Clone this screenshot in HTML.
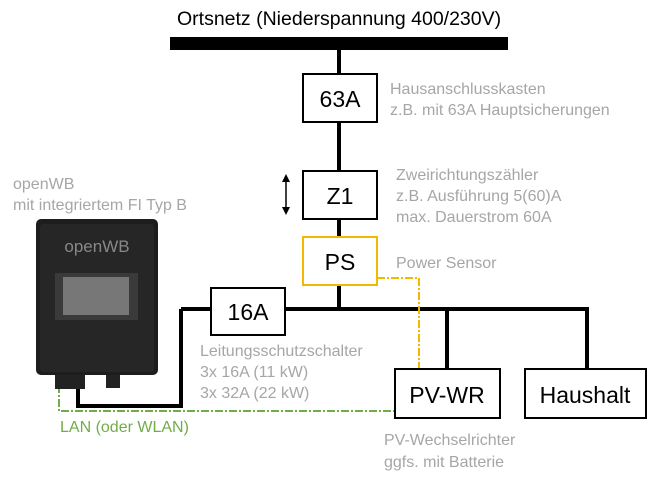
<!DOCTYPE html>
<html><head><meta charset="utf-8"><style>
body{margin:0;background:#fff;width:659px;height:476px;overflow:hidden;font-family:"Liberation Sans",sans-serif}
</style></head><body>
<svg width="659" height="476" xmlns="http://www.w3.org/2000/svg" font-family="Liberation Sans, sans-serif">
<text x="177" y="25" font-size="19.5" fill="#000">Ortsnetz (Niederspannung 400/230V)</text>
<rect x="170" y="37" width="338" height="13" fill="#000"/>
<line x1="339" y1="50" x2="339" y2="309" stroke="#000" stroke-width="4"/>
<rect x="303" y="74" width="74" height="48" fill="#fff" stroke="#000" stroke-width="2"/>
<text x="340" y="107" font-size="23" text-anchor="middle">63A</text>
<rect x="303" y="171" width="74" height="48" fill="#fff" stroke="#000" stroke-width="2"/>
<text x="340" y="204" font-size="23" text-anchor="middle">Z1</text>
<line x1="286" y1="180" x2="286" y2="210" stroke="#000" stroke-width="1.5"/>
<polygon points="286,174 282,182 290,182" fill="#000"/>
<polygon points="286,215 282,207 290,207" fill="#000"/>
<rect x="303" y="237" width="74" height="48" fill="#fff" stroke="#f5b800" stroke-width="2"/>
<text x="340" y="270" font-size="23" text-anchor="middle">PS</text>
<line x1="181" y1="309" x2="589" y2="309" stroke="#000" stroke-width="4"/>
<line x1="447" y1="309" x2="447" y2="368" stroke="#000" stroke-width="4"/>
<line x1="587" y1="309" x2="587" y2="368" stroke="#000" stroke-width="4"/>
<polyline points="181,309 181,406 78,406 78,384" fill="none" stroke="#000" stroke-width="4"/>
<polyline points="377,278 419,278 419,368" fill="none" stroke="#f5b800" stroke-width="2" stroke-dasharray="8,2,2,2"/>
<polyline points="59,385 59,411 395,411" fill="none" stroke="#70ad47" stroke-width="2" stroke-dasharray="8,2,2,2"/>
<rect x="211" y="288" width="74" height="47" fill="#fff" stroke="#000" stroke-width="2"/>
<text x="248" y="320" font-size="23" text-anchor="middle">16A</text>
<rect x="395" y="369" width="105" height="49" fill="#fff" stroke="#000" stroke-width="2"/>
<text x="447" y="403" font-size="23" text-anchor="middle">PV-WR</text>
<rect x="525" y="369" width="121" height="49" fill="#fff" stroke="#000" stroke-width="2"/>
<text x="585" y="403" font-size="23" text-anchor="middle">Haushalt</text>
<rect x="36" y="219" width="122" height="156" rx="5" fill="#1d1d1d"/>
<rect x="40" y="224" width="114" height="148" rx="3" fill="#262626"/>
<text x="97" y="252" font-size="17" fill="#888" text-anchor="middle">openWB</text>
<rect x="55" y="273" width="83" height="47" fill="#3a3a3a"/>
<rect x="63" y="277" width="66" height="38" fill="#777"/>
<rect x="55" y="375" width="15" height="14" fill="#222"/>
<rect x="70" y="375" width="15" height="14" fill="#222"/>
<rect x="106" y="375" width="14" height="13" fill="#222"/>
<g fill="#a6a6a6" font-size="16">
<text x="13" y="189">openWB</text>
<text x="13" y="210">mit integriertem FI Typ B</text>
<text x="390" y="94">Hausanschlusskasten</text>
<text x="390" y="115">z.B. mit 63A Hauptsicherungen</text>
<text x="396" y="180">Zweirichtungszähler</text>
<text x="396" y="201">z.B. Ausführung 5(60)A</text>
<text x="396" y="222">max. Dauerstrom 60A</text>
<text x="396" y="268">Power Sensor</text>
<text x="200" y="356">Leitungsschutzschalter</text>
<text x="200" y="377">3x 16A (11 kW)</text>
<text x="200" y="398">3x 32A (22 kW)</text>
<text x="384" y="445">PV-Wechselrichter</text>
<text x="384" y="467">ggfs. mit Batterie</text>
</g>
<text x="60" y="432" font-size="16" fill="#70ad47">LAN (oder WLAN)</text>
</svg>
</body></html>
